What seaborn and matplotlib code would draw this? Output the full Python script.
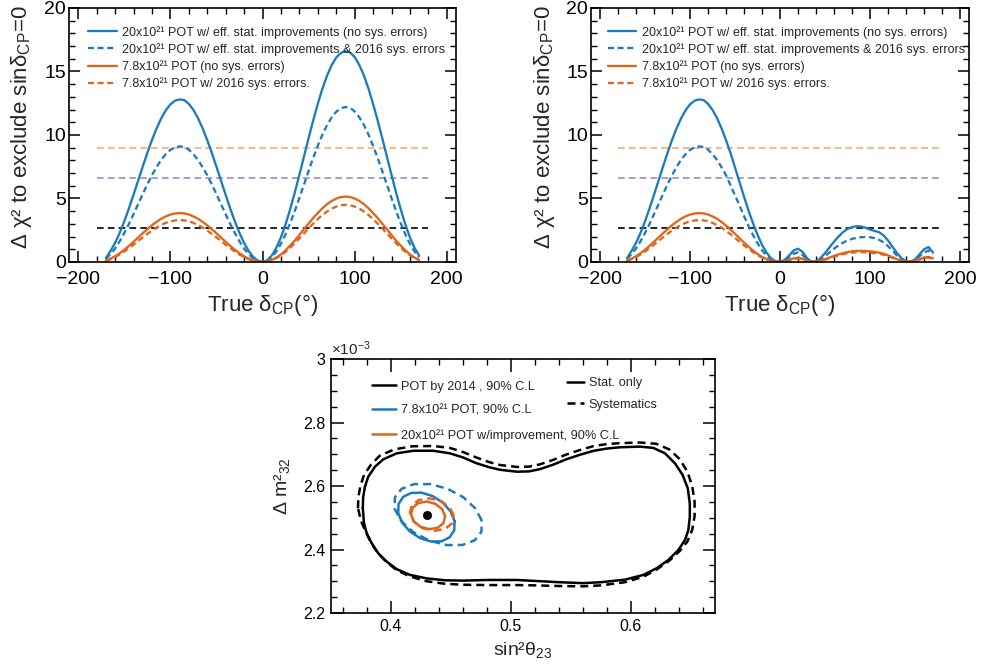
import numpy as np
import matplotlib
matplotlib.use("Agg")
import matplotlib.pyplot as plt
import seaborn as sns
from matplotlib.lines import Line2D
from matplotlib.ticker import MultipleLocator, FixedLocator, FixedFormatter

# ---- top panels: delta chi2 to exclude sin(dcp)=0 vs true dcp ----
delta = [-170, -165, -160, -155, -150, -145, -140, -135, -130, -125, -120, -115, -110, -105, -100, -95,
         -90, -85, -80, -75, -70, -65, -60, -55, -50, -45, -40, -35, -30, -25, -20, -15, -10, -5,
         0, 5, 10, 15, 20, 25, 30, 35, 40, 45, 50, 55, 60, 65, 70, 75, 80, 85,
         90, 95, 100, 105, 110, 115, 120, 125, 130, 135, 140, 145, 150, 155, 160, 165, 170]

# left panel
a_20_nosys = [0.3, 0.86, 1.50, 2.29, 3.20, 4.21, 5.29, 6.40, 7.51, 8.59, 9.60, 10.51, 11.30, 11.94, 12.41, 12.70,
              12.80, 12.75, 12.45, 11.98, 11.33, 10.53, 9.60, 8.59, 7.51, 6.40, 5.29, 4.21, 3.20, 2.29, 1.50, 0.86,
              0.39, 0.10, 0.0, 0.13, 0.50, 1.11, 1.94, 2.96, 4.15, 5.46, 6.86, 8.30, 9.74, 11.14, 12.45, 13.64,
              14.66, 15.49, 16.10, 16.47, 16.60, 16.50, 16.14, 15.52, 14.70, 13.66, 12.45, 11.14, 9.74, 8.30,
              6.86, 5.46, 4.15, 2.96, 1.94, 1.11, 0.50]
a_20_sys = [0.27, 0.61, 1.06, 1.63, 2.28, 2.99, 3.76, 4.55, 5.34, 6.11, 6.83, 7.47, 8.04, 8.49, 8.83, 9.03,
            9.10, 9.05, 8.85, 8.49, 8.04, 7.47, 6.83, 6.11, 5.34, 4.55, 3.76, 2.99, 2.28, 1.63, 1.06, 0.61,
            0.27, 0.07, 0.0, 0.09, 0.37, 0.82, 1.43, 2.18, 3.05, 4.01, 5.04, 6.10, 7.16, 8.19, 9.15, 10.02,
            10.77, 11.38, 11.83, 12.11, 12.20, 12.14, 11.86, 11.40, 10.80, 10.04, 9.15, 8.19, 7.16, 6.10,
            5.04, 4.01, 3.05, 2.18, 1.43, 0.82, 0.37]
a_78_nosys = [0.12, 0.26, 0.45, 0.69, 0.96, 1.27, 1.59, 1.93, 2.26, 2.58, 2.89, 3.16, 3.40, 3.59, 3.73, 3.82,
              3.85, 3.83, 3.74, 3.59, 3.40, 3.16, 2.89, 2.58, 2.26, 1.93, 1.59, 1.27, 0.96, 0.69, 0.45, 0.26,
              0.12, 0.03, 0.0, 0.04, 0.16, 0.35, 0.60, 0.92, 1.29, 1.69, 2.13, 2.58, 3.02, 3.46, 3.86, 4.23,
              4.55, 4.80, 4.99, 5.11, 5.15, 5.12, 5.00, 4.81, 4.56, 4.24, 3.86, 3.46, 3.02, 2.58,
              2.13, 1.69, 1.29, 0.92, 0.60, 0.35, 0.16]
a_78_sys = [0.10, 0.22, 0.39, 0.59, 0.83, 1.09, 1.36, 1.65, 1.94, 2.21, 2.48, 2.71, 2.91, 3.08, 3.20, 3.27,
            3.30, 3.28, 3.21, 3.08, 2.91, 2.71, 2.48, 2.21, 1.94, 1.65, 1.36, 1.09, 0.83, 0.59, 0.39, 0.22,
            0.10, 0.03, 0.0, 0.03, 0.14, 0.30, 0.53, 0.80, 1.13, 1.48, 1.86, 2.25, 2.64, 3.02, 3.38, 3.70,
            3.97, 4.20, 4.36, 4.47, 4.50, 4.47, 4.37, 4.20, 3.98, 3.70, 3.38, 3.02, 2.64, 2.25,
            1.86, 1.48, 1.13, 0.80, 0.53, 0.30, 0.14]

# right panel
b_20_nosys = [0.3, 0.86, 1.50, 2.29, 3.20, 4.21, 5.29, 6.40, 7.51, 8.59, 9.60, 10.51, 11.30, 11.94, 12.41, 12.70,
              12.80, 12.75, 12.45, 11.98, 11.33, 10.53, 9.60, 8.59, 7.45, 6.30, 5.15, 4.05, 3.05, 2.15, 1.35, 0.75,
              0.30, 0.06, 0.0, 0.15, 0.5, 0.9, 1.05, 0.8, 0.3, 0.02, 0.05, 0.3, 0.7, 1.15, 1.6, 2.0,
              2.35, 2.6, 2.75, 2.82, 2.8, 2.7, 2.55, 2.45, 2.35, 2.1, 1.7, 1.2, 0.7, 0.3,
              0.05, 0.02, 0.2, 0.6, 1.0, 1.18, 0.75]
b_20_sys = [0.27, 0.61, 1.06, 1.63, 2.28, 2.99, 3.76, 4.55, 5.34, 6.11, 6.83, 7.47, 8.04, 8.49, 8.83, 9.03,
            9.10, 9.05, 8.85, 8.49, 8.04, 7.47, 6.83, 6.05, 5.25, 4.45, 3.62, 2.85, 2.12, 1.48, 0.93, 0.50,
            0.20, 0.04, 0.0, 0.1, 0.35, 0.65, 0.75, 0.55, 0.2, 0.02, 0.03, 0.2, 0.45, 0.75, 1.05, 1.3,
            1.52, 1.7, 1.82, 1.9, 1.95, 1.97, 1.95, 1.88, 1.75, 1.55, 1.25, 0.9, 0.5, 0.2,
            0.03, 0.02, 0.15, 0.45, 0.75, 0.9, 0.6]
b_78_nosys = [0.12, 0.26, 0.45, 0.69, 0.96, 1.27, 1.59, 1.93, 2.26, 2.58, 2.89, 3.16, 3.40, 3.59, 3.73, 3.82,
              3.85, 3.83, 3.74, 3.59, 3.40, 3.16, 2.87, 2.55, 2.22, 1.88, 1.53, 1.21, 0.90, 0.63, 0.40, 0.22,
              0.09, 0.02, 0.0, 0.05, 0.15, 0.28, 0.33, 0.25, 0.1, 0.01, 0.02, 0.1, 0.22, 0.35, 0.48, 0.6,
              0.7, 0.78, 0.84, 0.87, 0.88, 0.87, 0.84, 0.8, 0.74, 0.65, 0.53, 0.38, 0.22, 0.09,
              0.02, 0.01, 0.08, 0.22, 0.35, 0.4, 0.3]
b_78_sys = [0.10, 0.22, 0.39, 0.59, 0.83, 1.09, 1.36, 1.65, 1.94, 2.21, 2.48, 2.71, 2.91, 3.08, 3.20, 3.27,
            3.30, 3.28, 3.21, 3.08, 2.91, 2.71, 2.46, 2.18, 1.90, 1.60, 1.31, 1.04, 0.78, 0.55, 0.35, 0.19,
            0.08, 0.02, 0.0, 0.04, 0.13, 0.24, 0.28, 0.21, 0.08, 0.01, 0.02, 0.09, 0.19, 0.3, 0.42, 0.53,
            0.62, 0.69, 0.74, 0.77, 0.78, 0.77, 0.74, 0.7, 0.65, 0.57, 0.46, 0.33, 0.19, 0.08,
            0.02, 0.01, 0.07, 0.19, 0.3, 0.34, 0.26]

thresholds = [9.0, 6.63, 2.71]
threshold_colors = ["#f9ad6a", "#9d8bc4", "black"]
threshold_span = [-180, 180]

curve_labels = ["20x10²¹ POT w/ eff. stat. improvements (no sys. errors)",
                "20x10²¹ POT w/ eff. stat. improvements & 2016 sys. errors",
                "7.8x10²¹ POT (no sys. errors)",
                "7.8x10²¹ POT w/ 2016 sys. errors."]

# ---- bottom panel: sin2theta23 vs dm2_32 (x1e-3) 90% C.L. contours ----
c2014_stat_x = [0.3765, 0.3768, 0.3783, 0.381, 0.3867, 0.3936, 0.4048, 0.4186, 0.4353, 0.449, 0.46, 0.471,
                0.482, 0.491, 0.505, 0.515, 0.524, 0.535, 0.546, 0.558, 0.569, 0.58, 0.591, 0.6075, 0.6186,
                0.6283, 0.6367, 0.643, 0.6473, 0.649, 0.649, 0.6478, 0.645, 0.6394, 0.6311, 0.6214, 0.6103,
                0.595, 0.575, 0.56, 0.54, 0.52, 0.505, 0.48, 0.46, 0.445, 0.4298, 0.4158, 0.4048, 0.3964,
                0.3894, 0.3839, 0.3798, 0.3775]
c2014_stat_y = [2.53, 2.565, 2.598, 2.629, 2.661, 2.684, 2.703, 2.711, 2.711, 2.703, 2.690, 2.672,
                2.659, 2.651, 2.645, 2.646, 2.653, 2.667, 2.684, 2.699, 2.711, 2.718, 2.722, 2.724, 2.720,
                2.703, 2.671, 2.635, 2.593, 2.545, 2.503, 2.461, 2.430, 2.398, 2.367, 2.341, 2.320,
                2.305, 2.297, 2.294, 2.297, 2.301, 2.304, 2.304, 2.302, 2.303, 2.309, 2.320, 2.338, 2.362,
                2.388, 2.420, 2.451, 2.483]
c2014_sys_x = [0.3725, 0.3728, 0.3745, 0.3775, 0.3835, 0.3905, 0.4025, 0.4175, 0.4353, 0.449, 0.46, 0.471,
               0.482, 0.491, 0.505, 0.515, 0.524, 0.535, 0.546, 0.558, 0.569, 0.58, 0.591, 0.6075, 0.621,
               0.632, 0.6405, 0.647, 0.651, 0.653, 0.653, 0.651, 0.647, 0.6405, 0.632, 0.6214, 0.6103,
               0.595, 0.575, 0.56, 0.54, 0.52, 0.505, 0.48, 0.46, 0.445, 0.4298, 0.4158, 0.4048, 0.3964,
               0.3894, 0.3835, 0.379, 0.375]
c2014_sys_y = [2.53, 2.565, 2.600, 2.635, 2.668, 2.695, 2.715, 2.725, 2.726, 2.720, 2.707, 2.690,
               2.675, 2.666, 2.660, 2.661, 2.668, 2.682, 2.699, 2.714, 2.726, 2.732, 2.735, 2.737, 2.733,
               2.715, 2.685, 2.645, 2.600, 2.55, 2.505, 2.462, 2.425, 2.395, 2.365, 2.337, 2.314,
               2.297, 2.287, 2.284, 2.285, 2.287, 2.288, 2.288, 2.289, 2.292, 2.300, 2.315, 2.335, 2.360,
               2.387, 2.42, 2.455, 2.49]

c78_stat_x = [0.453, 0.4497, 0.4433, 0.4348, 0.4255, 0.4168, 0.4101, 0.4063, 0.406, 0.4093, 0.4157, 0.4242,
              0.4335, 0.4422, 0.4489, 0.4527]
c78_stat_y = [2.489, 2.5195, 2.5472, 2.5681, 2.579, 2.5781, 2.5656, 2.5435, 2.515, 2.4845, 2.4568, 2.4359,
              2.425, 2.4259, 2.4384, 2.4605]
c78_sys_x = [0.4756, 0.4702, 0.4602, 0.4469, 0.4325, 0.4191, 0.4088, 0.4032, 0.403, 0.4084, 0.4184, 0.4317,
             0.4461, 0.4595, 0.4698, 0.4754]
c78_sys_y = [2.4915, 2.5297, 2.5648, 2.5916, 2.606, 2.6058, 2.591, 2.5639, 2.5285, 2.4903, 2.4552, 2.4284,
             2.414, 2.4142, 2.429, 2.4561]

c20_stat_x = [0.4451, 0.4427, 0.4371, 0.4299, 0.4229, 0.4181, 0.4167, 0.4191, 0.4247, 0.4319, 0.4389, 0.4437]
c20_stat_y = [2.5045, 2.5267, 2.5437, 2.551, 2.5467, 2.5319, 2.5105, 2.4883, 2.4713, 2.464, 2.4683, 2.4831]
c20_sys_x = [0.4523, 0.4488, 0.4415, 0.432, 0.4231, 0.4172, 0.4157, 0.4192, 0.4265, 0.436, 0.4449, 0.4508]
c20_sys_y = [2.507, 2.5329, 2.5527, 2.561, 2.5557, 2.5381, 2.513, 2.4871, 2.4673, 2.459, 2.4643, 2.4819]

best_fit = [0.43, 2.51]

contour_labels = ["POT by 2014 , 90% C.L", "7.8x10²¹ POT, 90% C.L", "20x10²¹ POT w/improvement, 90% C.L"]

BLUE = "#1b7bbf"
ORANGE = "#e0651b"

sns.set_style("ticks")
plt.rcParams['font.family'] = ['Liberation Sans', 'DejaVu Sans']
plt.rcParams['mathtext.fontset'] = 'custom'
plt.rcParams['mathtext.rm'] = 'Liberation Sans'
plt.rcParams['mathtext.it'] = 'Liberation Sans'
plt.rcParams['mathtext.bf'] = 'Liberation Sans:bold'
plt.rcParams['axes.linewidth'] = 1.2
plt.rcParams['axes.edgecolor'] = 'black'
plt.rcParams['lines.solid_joinstyle'] = 'round'
plt.rcParams['lines.dash_joinstyle'] = 'round'

fig = plt.figure(figsize=(9.83, 6.7), dpi=100)
W, H = 983.0, 670.0


def px_axes(left, top, right, bottom):
    return fig.add_axes([left / W, 1 - bottom / H, (right - left) / W, (bottom - top) / H])


def style_delta_axes(ax):
    ax.set_xlim(-210, 210)
    ax.set_ylim(0, 20)
    ax.xaxis.set_major_locator(MultipleLocator(100))
    ax.xaxis.set_minor_locator(MultipleLocator(20))
    ax.yaxis.set_major_locator(MultipleLocator(5))
    ax.yaxis.set_minor_locator(MultipleLocator(1))
    ax.tick_params(which='both', direction='in', top=True, right=True, labelsize=14, colors='black')
    ax.tick_params(axis='x', which='both', pad=6.5)
    ax.tick_params(axis='y', which='both', pad=2)
    ax.tick_params(which='major', length=8, width=1.1)
    ax.tick_params(which='minor', length=4, width=1.0)
    ax.set_xlabel(r"True δ$_{\rm CP}$(°)", fontsize=16, labelpad=3)
    ax.set_ylabel(r"Δ χ² to exclude sinδ$_{\rm CP}$=0", fontsize=16)
    ax.yaxis.set_label_coords(-0.09, 0.53)


def draw_delta_panel(ax, x, series, anchor_x):
    for thr, col in zip(thresholds, threshold_colors):
        sns.lineplot(x=threshold_span, y=[thr, thr], ax=ax, color=col, lw=1.2)
        ax.lines[-1].set_dashes((4, 2.5))
    styles = [(BLUE, None), (BLUE, (2.6, 1.6)), (ORANGE, None), (ORANGE, (2.6, 1.6))]
    handles = []
    for vals, (col, dash) in zip(series, styles):
        sns.lineplot(x=x, y=vals, ax=ax, color=col, lw=1.65, sort=False, estimator=None)
        ln = ax.lines[-1]
        if dash is not None:
            ln.set_dashes(dash)
        handles.append(ln)
    ax.legend(handles=handles, labels=curve_labels, loc='upper left', bbox_to_anchor=(anchor_x, 0.95),
              frameon=False, fontsize=9.0, handlelength=2.3, handletextpad=0.45, labelspacing=0.35,
              borderaxespad=0.0, borderpad=0.4)
    style_delta_axes(ax)


ax1 = px_axes(69, 8, 456, 262)
draw_delta_panel(ax1, delta, [a_20_nosys, a_20_sys, a_78_nosys, a_78_sys], 0.036)

ax2 = px_axes(591, 8, 969, 262)
draw_delta_panel(ax2, delta, [b_20_nosys, b_20_sys, b_78_nosys, b_78_sys], 0.031)

# bottom panel
ax3 = px_axes(331, 359, 715, 613)


def closed(v):
    return list(v) + [v[0]]


contours = [
    (c2014_stat_x, c2014_stat_y, "black", None),
    (c2014_sys_x, c2014_sys_y, "black", (3.2, 2.0)),
    (c78_stat_x, c78_stat_y, BLUE, None),
    (c78_sys_x, c78_sys_y, BLUE, (3.2, 2.0)),
    (c20_stat_x, c20_stat_y, ORANGE, None),
    (c20_sys_x, c20_sys_y, ORANGE, (3.2, 2.0)),
]
for cx, cy, col, dash in contours:
    sns.lineplot(x=closed(cx), y=closed(cy), ax=ax3, color=col, lw=1.8, sort=False, estimator=None)
    if dash is not None:
        ax3.lines[-1].set_dashes(dash)

sns.scatterplot(x=[best_fit[0]], y=[best_fit[1]], ax=ax3, color="black", s=36, edgecolor="black", zorder=5)

ax3.set_xlim(0.35, 0.67)
ax3.set_ylim(2.2, 3.0)
ax3.xaxis.set_major_locator(FixedLocator([0.4, 0.5, 0.6]))
ax3.xaxis.set_major_formatter(FixedFormatter(["0.4", "0.5", "0.6"]))
ax3.xaxis.set_minor_locator(MultipleLocator(0.02))
ax3.yaxis.set_major_locator(FixedLocator([2.2, 2.4, 2.6, 2.8, 3.0]))
ax3.yaxis.set_major_formatter(FixedFormatter(["2.2", "2.4", "2.6", "2.8", "3"]))
ax3.yaxis.set_minor_locator(MultipleLocator(0.05))
ax3.tick_params(which='both', direction='in', top=True, right=True, labelsize=11.5, pad=4, colors='black')
ax3.tick_params(which='major', length=9, width=1.1)
ax3.tick_params(which='minor', length=4.5, width=1.0)
ax3.set_xlabel(r"sin²θ$_{23}$", fontsize=14, labelpad=5)
ax3.set_ylabel(r"Δ m²$_{32}$", fontsize=14, labelpad=8)
ax3.text(0.0, 1.003, r"×10$^{-3}$", transform=ax3.transAxes, ha='left', va='bottom', fontsize=11)

leg_a = [Line2D([], [], color=c, lw=1.8) for c in ["black", BLUE, ORANGE]]
lg1 = ax3.legend(handles=leg_a, labels=contour_labels, loc='upper left', bbox_to_anchor=(0.107, 0.915),
                 frameon=False, fontsize=9.2, handlelength=1.9, handletextpad=0.4, labelspacing=0.95,
                 borderaxespad=0.0, borderpad=0.0)
ax3.add_artist(lg1)
leg_b = [Line2D([], [], color="black", lw=1.8), Line2D([], [], color="black", lw=1.8, dashes=(3.2, 2.0))]
ax3.legend(handles=leg_b, labels=["Stat. only", "Systematics"], loc='upper left', bbox_to_anchor=(0.615, 0.928),
           frameon=False, fontsize=9.2, handlelength=1.3, handletextpad=0.4, labelspacing=0.75,
           borderaxespad=0.0, borderpad=0.0)

fig.savefig("out.png", dpi=100)
